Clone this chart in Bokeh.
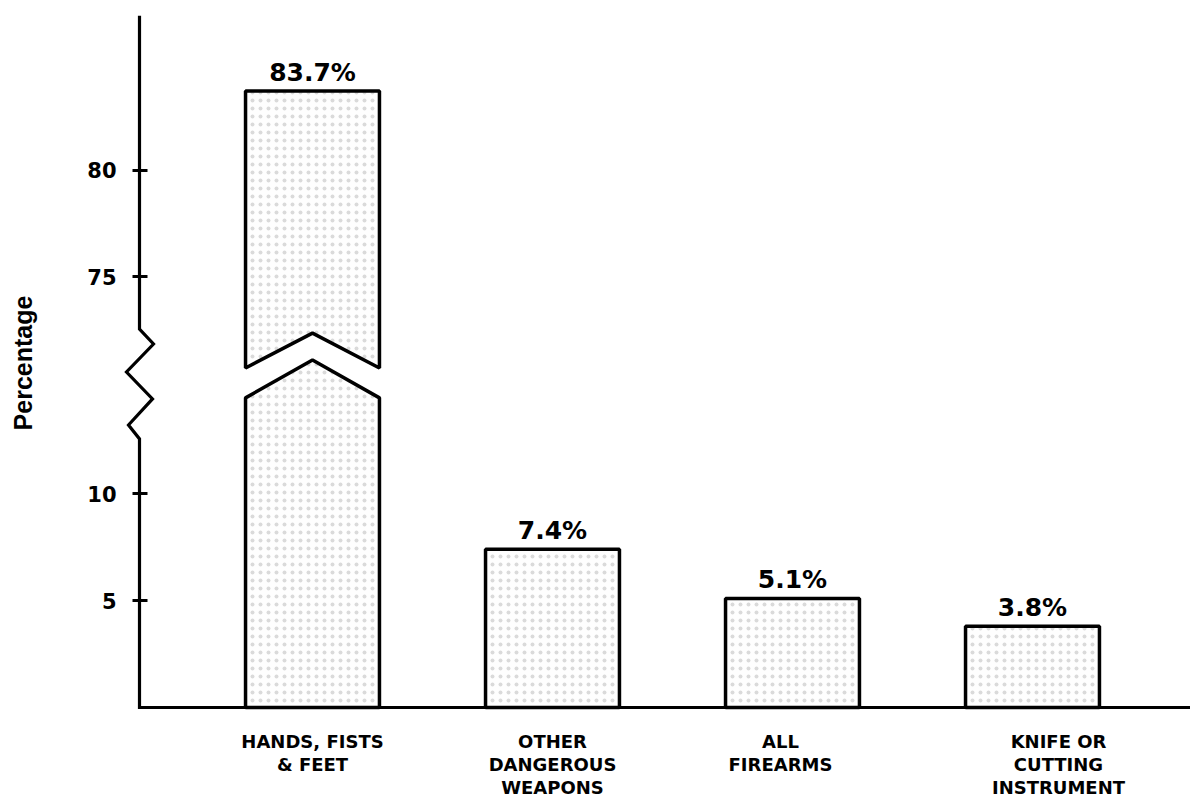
from bokeh.plotting import figure
from bokeh.models import FixedTicker
from bokeh.core.properties import value
from bokeh.embed import file_html
from bokeh.resources import INLINE

# ---------------- data ----------------
categories = ["HANDS, FISTS\n& FEET", "OTHER\nDANGEROUS\nWEAPONS",
              "ALL\nFIREARMS", "KNIFE OR\nCUTTING\nINSTRUMENT"]
percentages = [83.7, 7.4, 5.1, 3.8]
value_labels = ["83.7%", "7.4%", "5.1%", "3.8%"]
y_tick_values = [5, 10, 75, 80]
y_tick_labels = ["5", "10", "75", "80"]

# ---------------- broken-axis transform ----------------
BREAK_SHIFT = 54.85  # values above the break are shifted down by this


def disp(v):
    return v if v < 40 else v - BREAK_SHIFT


def clean(k):
    k = round(float(k), 4)
    return int(k) if k.is_integer() else k


# ---------------- layout ----------------
W, H = 1190, 800
PX_X, PX_Y = 240.0, 21.4
LEFT, TOP, BOTTOM = 5, 15, 89
frame_w = W - LEFT
frame_h = H - TOP - BOTTOM
y_start = -3.0 / PX_Y
y_end = y_start + frame_h / PX_Y
x_start = 1 - (312 - LEFT) / PX_X
x_end = x_start + frame_w / PX_X
x_axis = x_start + (139 - LEFT) / PX_X
BAR_W = 0.558
LABEL_SHIFT_PX = [0, 0, -12, 26]

# break geometry (display units)
LOW_CORNER, LOW_PEAK = 14.49, 16.26
UP_CORNER, UP_PEAK = 15.89, 17.52
ZZ_Y = [17.71, 17.01, 15.70, 14.44, 13.22, 12.57]
ZZ_DX = [0, 14, -13, 13, -11, 0]

p = figure(width=W, height=H, output_backend="svg", toolbar_location=None,
           x_range=(x_start, x_end), y_range=(y_start, y_end),
           min_border_left=LEFT, min_border_right=0,
           min_border_top=TOP, min_border_bottom=BOTTOM)
p.outline_line_color = None
p.xgrid.visible = False
p.ygrid.visible = False
p.background_fill_color = "white"

xs = [i + 1 for i in range(len(percentages))]
tops = [disp(v) for v in percentages]

style = dict(fill_color="#fefefe", hatch_pattern=".", hatch_color="#dadada",
             hatch_scale=8, hatch_weight=1, line_color="black", line_width=3.5)

# ordinary bars
nx = [x for x, v in zip(xs, percentages) if v < 40]
nt = [disp(v) for v in percentages if v < 40]
p.vbar(x=nx, top=nt, bottom=0, width=BAR_W, **style)

# broken bars
pxs, pys = [], []
for x, v in zip(xs, percentages):
    if v >= 40:
        a, b = x - BAR_W / 2, x + BAR_W / 2
        t = disp(v)
        pxs.append([a, a, x, b, b])
        pys.append([0, LOW_CORNER, LOW_PEAK, LOW_CORNER, 0])
        pxs.append([a, x, b, b, a])
        pys.append([UP_CORNER, UP_PEAK, UP_CORNER, t, t])
p.patches(xs=pxs, ys=pys, **style)

# axis line with zigzag break + baseline
lx = [x_axis] + [x_axis + d / PX_X for d in ZZ_DX] + [x_axis, x_end]
ly = [y_end] + ZZ_Y + [0, 0]
p.line(lx, ly, line_color="black", line_width=3.2, line_join="miter")

# value labels
p.text(x=xs, y=tops, text=value_labels, text_font=value("DejaVu Sans"),
       text_font_style="bold", text_font_size="25px", text_align="center",
       text_baseline="alphabetic", y_offset=-19, text_color="black")

# y axis
ya = p.yaxis[0]
ya.fixed_location = x_axis
yt = [clean(disp(v)) for v in y_tick_values]
ya.ticker = FixedTicker(ticks=yt)
ya.major_label_overrides = {k: lab for k, lab in zip(yt, y_tick_labels)}
ya.axis_line_color = None
ya.major_tick_in = 8
ya.major_tick_out = 7
ya.major_tick_line_width = 3
ya.minor_tick_line_color = None
ya.major_label_standoff = 16
ya.major_label_text_font = "DejaVu Sans"
ya.major_label_text_font_style = "bold"
ya.major_label_text_font_size = "21px"
ya.major_label_text_color = "black"
ya.axis_label = "Percentage"
ya.axis_label_text_font = "Liberation Sans"
ya.axis_label_text_font_style = "bold"
ya.axis_label_text_font_size = "25px"
ya.axis_label_text_color = "black"
ya.axis_label_standoff = 47

# x axis
xa = p.xaxis[0]
xt = [clean(x + s / PX_X) for x, s in zip(xs, LABEL_SHIFT_PX)]
xa.ticker = FixedTicker(ticks=xt)
xa.major_label_overrides = {k: lab for k, lab in zip(xt, categories)}
xa.axis_line_color = None
xa.major_tick_line_color = None
xa.minor_tick_line_color = None
xa.major_label_standoff = 14
xa.major_label_text_font = "DejaVu Sans"
xa.major_label_text_font_style = "bold"
xa.major_label_text_font_size = "18px"
xa.major_label_text_color = "black"
xa.major_label_text_line_height = 1.1

open("out.html", "w").write(file_html(p, INLINE))
